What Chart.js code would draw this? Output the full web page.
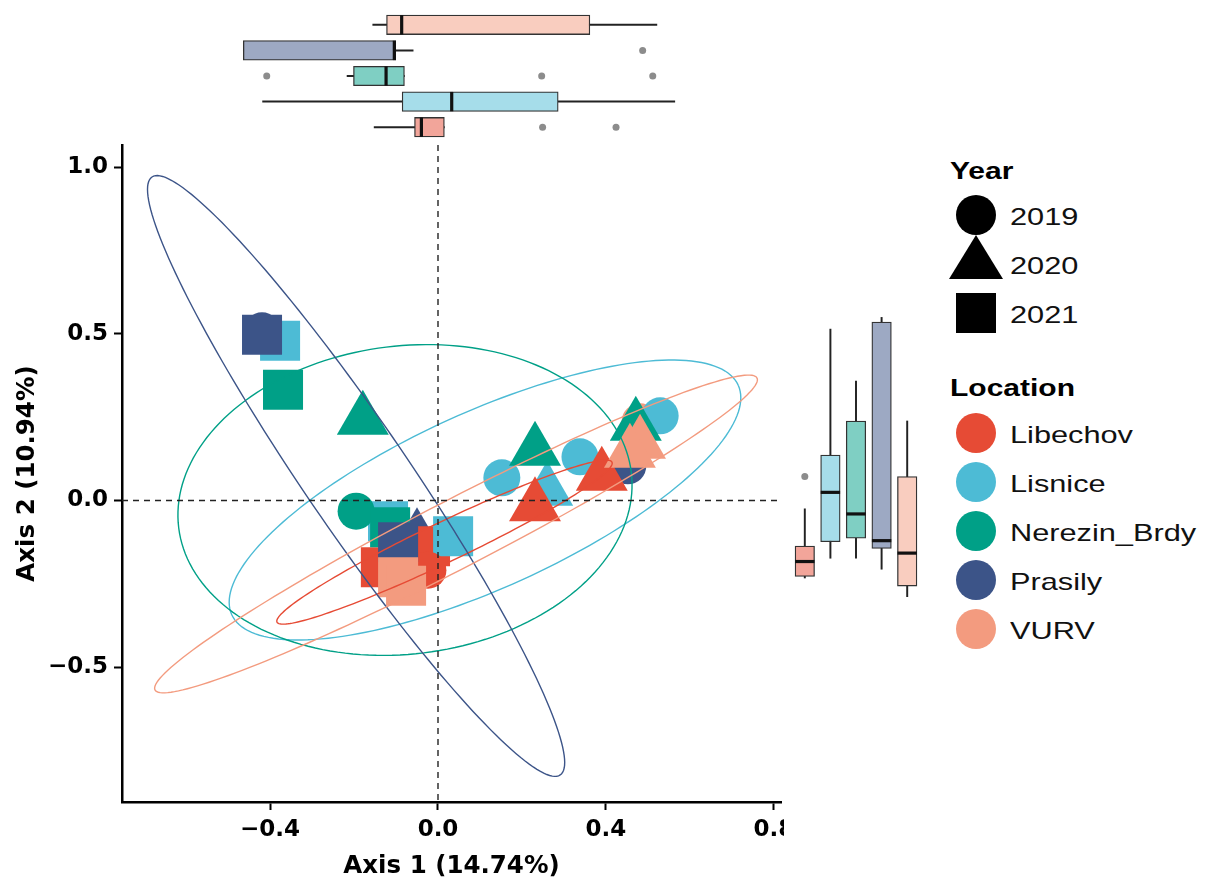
<!DOCTYPE html>
<html>
<head>
<meta charset="utf-8">
<title>PCoA by location and year</title>
<script src="https://cdn.jsdelivr.net/npm/chart.js@4.4.1/dist/chart.umd.min.js"></script>
<style>
  body { margin: 0; width: 1205px; height: 884px; background: #fff; position: relative; overflow: hidden;
         font-family: "Liberation Sans", Arial, sans-serif; }
  canvas { position: absolute; }
  #main { left: 0; top: 0; }
  #top { left: 122px; top: 12px; }
  #side { left: 792px; top: 145px; }
  .lg { position: absolute; left: 1010px; height: 30px; line-height: 30px; font-size: 24px; color: #111;
        white-space: nowrap; transform: scaleX(1.28); transform-origin: left center; }
  .lg.title { left: 950px; font-weight: bold; color: #000; transform: scaleX(1.25); }
  .key { position: absolute; }
</style>
</head>
<body>
<canvas id="main" width="784" height="884"></canvas>
<canvas id="top" width="659" height="128"></canvas>
<canvas id="side" width="128" height="657"></canvas>
<div id="legend"></div>
<script>
const locations = ['Libechov', 'Lisnice', 'Nerezin_Brdy', 'Prasily', 'VURV'];
const locationColors = ['#E64B35', '#4DBBD5', '#00A087', '#3C5488', '#F39B7F'];
const boxFills = ['#F2A59A', '#A6DDEA', '#7FCFC3', '#9DA9C3', '#F9CDBF'];
const years = [2019, 2020, 2021];
const yearShapes = ['circle', 'triangle', 'rect'];

// sample scores: [axis 1, axis 2, year]
const libechovScores = [
  [-0.024, -0.209, 2019],
  [0.231, -0.017, 2020], [0.390, 0.074, 2020],
  [-0.136, -0.200, 2021], [-0.019, -0.137, 2021]
];
const lisniceScores = [
  [0.152, 0.068, 2019], [0.338, 0.131, 2019], [0.529, 0.254, 2019],
  [0.260, 0.029, 2020],
  [-0.376, 0.479, 2021], [-0.119, -0.062, 2021], [0.036, -0.107, 2021]
];
const nerezinScores = [
  [-0.195, -0.032, 2019],
  [-0.179, 0.242, 2020], [0.231, 0.149, 2020], [0.471, 0.224, 2020],
  [-0.369, 0.332, 2021], [-0.114, -0.080, 2021]
];
const prasilyScores = [
  [-0.419, 0.509, 2019], [0.452, 0.104, 2019],
  [-0.050, -0.110, 2020],
  [-0.419, 0.497, 2021], [-0.095, -0.125, 2021]
];
const vurvScores = [
  [0.481, 0.236, 2019],
  [0.481, 0.170, 2020], [0.457, 0.143, 2020],
  [-0.095, -0.230, 2021], [-0.076, -0.256, 2021]
];
const scores = [libechovScores, lisniceScores, nerezinScores, prasilyScores, vurvScores];

// 95% ellipses per location: centre and the two conjugate semi-axes
const ellipseCentres = [[0.0155, -0.125], [0.1119, 0.0015], [-0.0786, 0.0015], [-0.195, 0.0735], [0.0429, -0.1005]];
const ellipseAxisA = [[0.3988, 0.240], [0.6029, 0.3444], [0.5388, 0.0834], [0.486, -0.897], [0.7167, 0.468]];
const ellipseAxisB = [[0.0205, -0.0542], [0.0867, -0.2403], [0.0448, -0.4587], [0.1024, 0.0879], [0.0371, -0.0906]];

// marginal box plots, axis 1
const ax1Low  = [-0.135, -0.378, -0.194, -0.420, -0.138];
const ax1Q1   = [-0.047, -0.074, -0.180, -0.420, -0.108];
const ax1Med  = [-0.032,  0.034, -0.109, -0.091, -0.075];
const ax1Q3   = [ 0.018,  0.266, -0.069, -0.088,  0.335];
const ax1High = [ 0.018,  0.520, -0.069, -0.050,  0.481];
const ax1Out  = [[0.232, 0.392], [], [-0.369, 0.230, 0.472], [0.450], []];

// marginal box plots, axis 2
const ax2Low  = [-0.205, -0.151, -0.151, -0.181, -0.256];
const ax2Q1   = [-0.201, -0.106, -0.096, -0.124, -0.227];
const ax2Med  = [-0.160,  0.029, -0.030, -0.103, -0.137];
const ax2Q3   = [-0.118,  0.131,  0.224,  0.494,  0.072];
const ax2High = [-0.016,  0.475,  0.333,  0.507,  0.224];
const ax2Out  = [[0.072], [], [], [], []];

const axis1Ticks = [-0.4, 0, 0.4, 0.8];
const axis2Ticks = [-0.5, 0, 0.5, 1.0];

Chart.defaults.font.family = '"DejaVu Sans", sans-serif';

const fmt = v => (v < 0 ? '\u2212' : '') + Math.abs(v).toFixed(1);
const tickFont = { size: 23, weight: 'bold' };
const titleFont = { size: 24.5, weight: 'bold', lineHeight: 1.2 };

// points: one dataset per location and year, listed bottom to top
const stacking = [
  ['VURV', 2019], ['Lisnice', 2019], ['Lisnice', 2020], ['Prasily', 2019], ['Prasily', 2020],
  ['Libechov', 2021], ['Lisnice', 2021], ['Nerezin_Brdy', 2019], ['Nerezin_Brdy', 2020],
  ['Nerezin_Brdy', 2021], ['Libechov', 2019], ['Prasily', 2021], ['Libechov', 2020],
  ['VURV', 2020], ['VURV', 2021]
];
const shapeRadius = { circle: 18.5, triangle: 30, rect: 28.3 };
const pointSets = stacking.map(([loc, yr], i) => {
  const li = locations.indexOf(loc);
  const shape = yearShapes[years.indexOf(yr)];
  return {
    label: loc + ' ' + yr,
    data: scores[li].filter(s => s[2] === yr).map(s => ({ x: s[0], y: s[1] })),
    pointStyle: shape,
    pointRadius: shapeRadius[shape],
    pointHoverRadius: shapeRadius[shape],
    pointBackgroundColor: locationColors[li],
    pointBorderWidth: 0,
    order: stacking.length - i
  };
});

const ellipseLayer = {
  id: 'ellipseLayer',
  afterDatasetsDraw(chart) {
    const { ctx, chartArea: a, scales: { x, y } } = chart;
    ctx.save();
    ctx.beginPath();
    ctx.rect(a.left, a.top, a.right - a.left, a.bottom - a.top);
    ctx.clip();
    ctx.lineWidth = 1.4;
    ellipseCentres.forEach((c, i) => {
      const A = ellipseAxisA[i], B = ellipseAxisB[i];
      ctx.strokeStyle = locationColors[i];
      ctx.beginPath();
      for (let k = 0; k <= 180; k++) {
        const t = k / 180 * Math.PI * 2;
        const px = x.getPixelForValue(c[0] + A[0] * Math.cos(t) + B[0] * Math.sin(t));
        const py = y.getPixelForValue(c[1] + A[1] * Math.cos(t) + B[1] * Math.sin(t));
        if (k === 0) ctx.moveTo(px, py); else ctx.lineTo(px, py);
      }
      ctx.stroke();
    });
    // dashed zero lines
    ctx.strokeStyle = '#222';
    ctx.lineWidth = 1.4;
    ctx.setLineDash([6, 5]);
    const x0 = x.getPixelForValue(0), y0 = y.getPixelForValue(0);
    ctx.beginPath();
    ctx.moveTo(x0, a.top); ctx.lineTo(x0, a.bottom);
    ctx.moveTo(a.left, y0); ctx.lineTo(a.right, y0);
    ctx.stroke();
    ctx.restore();
  }
};

new Chart(document.getElementById('main'), {
  type: 'scatter',
  data: { datasets: pointSets },
  plugins: [ellipseLayer],
  options: {
    responsive: false,
    animation: false,
    events: [],
    layout: { autoPadding: false, padding: { top: 145, right: 3, left: 0, bottom: 0 } },
    plugins: { legend: { display: false }, tooltip: { enabled: false } },
    scales: {
      x: {
        type: 'linear', min: -0.7524, max: 0.8167,
        afterBuildTicks: s => { s.ticks = axis1Ticks.map(v => ({ value: v })); },
        afterFit: s => { s.height = 82; s.paddingLeft = 0; s.paddingRight = 0; },
        ticks: { font: tickFont, color: '#000', padding: 6, maxRotation: 0, autoSkip: false, callback: fmt },
        grid: { drawOnChartArea: false, tickLength: 8, tickWidth: 2, tickColor: '#000' },
        border: { color: '#000', width: 2.5 },
        title: { display: true, text: 'Axis 1 (14.74%)', color: '#000', font: titleFont, padding: { top: 0, bottom: 3 } }
      },
      y: {
        type: 'linear', min: -0.9046, max: 1.0665,
        afterBuildTicks: s => { s.ticks = axis2Ticks.map(v => ({ value: v })); },
        afterFit: s => { s.width = 122; s.paddingTop = 0; s.paddingBottom = 0; },
        ticks: { font: tickFont, color: '#000', padding: 6, autoSkip: false, callback: fmt },
        grid: { drawOnChartArea: false, tickLength: 8, tickWidth: 2, tickColor: '#000' },
        border: { color: '#000', width: 2.5 },
        title: { display: true, text: 'Axis 2 (10.94%)', color: '#000', font: titleFont, padding: { top: 13, bottom: 0 } }
      }
    }
  }
});

function marginalSets(low, q1, med, q3, high, outs, horizontal) {
  const at = horizontal ? (v, i) => ({ x: v, y: locations[i] }) : (v, i) => ({ x: locations[i], y: v });
  return [
    { type: 'bar', data: low.map((v, i) => [v, high[i]]), backgroundColor: '#222',
      barThickness: 1.3, grouped: false, order: 4 },
    { type: 'bar', data: q1.map((v, i) => [v, q3[i]]), backgroundColor: boxFills, borderColor: '#333',
      borderWidth: 1.3, borderSkipped: false, barThickness: 19.5, grouped: false, order: 3 },
    { type: 'line', data: med.map(at), showLine: false, pointStyle: 'line', pointRotation: horizontal ? 90 : 0,
      pointRadius: 9.7, pointHoverRadius: 9.7, pointBorderWidth: 3.2, pointBorderColor: '#111', order: 2 },
    { type: 'line', data: outs.flatMap((arr, i) => arr.map(v => at(v, i))), showLine: false,
      pointRadius: 3.5, pointHoverRadius: 3.5, pointBackgroundColor: '#8c8c8c', pointBorderWidth: 0, order: 1 }
  ];
}

const marginalBase = {
  responsive: false,
  animation: false,
  events: [],
  layout: { autoPadding: false, padding: 0 },
  plugins: { legend: { display: false }, tooltip: { enabled: false } }
};

new Chart(document.getElementById('top'), {
  type: 'bar',
  data: { labels: locations, datasets: marginalSets(ax1Low, ax1Q1, ax1Med, ax1Q3, ax1High, ax1Out, true) },
  options: Object.assign({}, marginalBase, {
    indexAxis: 'y',
    scales: {
      x: { type: 'linear', min: -0.6843, max: 0.7514, display: false },
      y: { type: 'category', reverse: true, display: false }
    }
  })
});

new Chart(document.getElementById('side'), {
  type: 'bar',
  data: { labels: locations, datasets: marginalSets(ax2Low, ax2Q1, ax2Med, ax2Q3, ax2High, ax2Out, false) },
  options: Object.assign({}, marginalBase, {
    scales: {
      x: { type: 'category', display: false },
      y: { type: 'linear', min: -0.817, max: 0.978, display: false }
    }
  })
});

// legend: shape by year, colour by location
const legend = document.getElementById('legend');
function addText(text, cy, title) {
  const d = document.createElement('div');
  d.className = title ? 'lg title' : 'lg';
  d.style.top = (cy - 15) + 'px';
  d.textContent = text;
  legend.appendChild(d);
}
function addKey(shape, cy, color) {
  const k = document.createElement('div');
  k.className = 'key';
  k.style.background = color;
  if (shape === 'triangle') {
    k.style.left = '949px'; k.style.top = (cy - 29) + 'px';
    k.style.width = '54px'; k.style.height = '44px';
    k.style.clipPath = 'polygon(50% 0, 100% 100%, 0 100%)';
  } else {
    k.style.left = '956px'; k.style.top = (cy - 20) + 'px';
    k.style.width = '40px'; k.style.height = '40px';
    if (shape === 'circle') k.style.borderRadius = '50%';
  }
  legend.appendChild(k);
}
addText('Year', 171, true);
[215, 264, 313].forEach((cy, i) => { addKey(yearShapes[i], cy, '#000'); addText(String(years[i]), cy + 2); });
addText('Location', 388, true);
[433, 482, 531, 580, 629].forEach((cy, i) => { addKey('circle', cy, locationColors[i]); addText(locations[i], cy + 2); });
</script>
</body>
</html>
